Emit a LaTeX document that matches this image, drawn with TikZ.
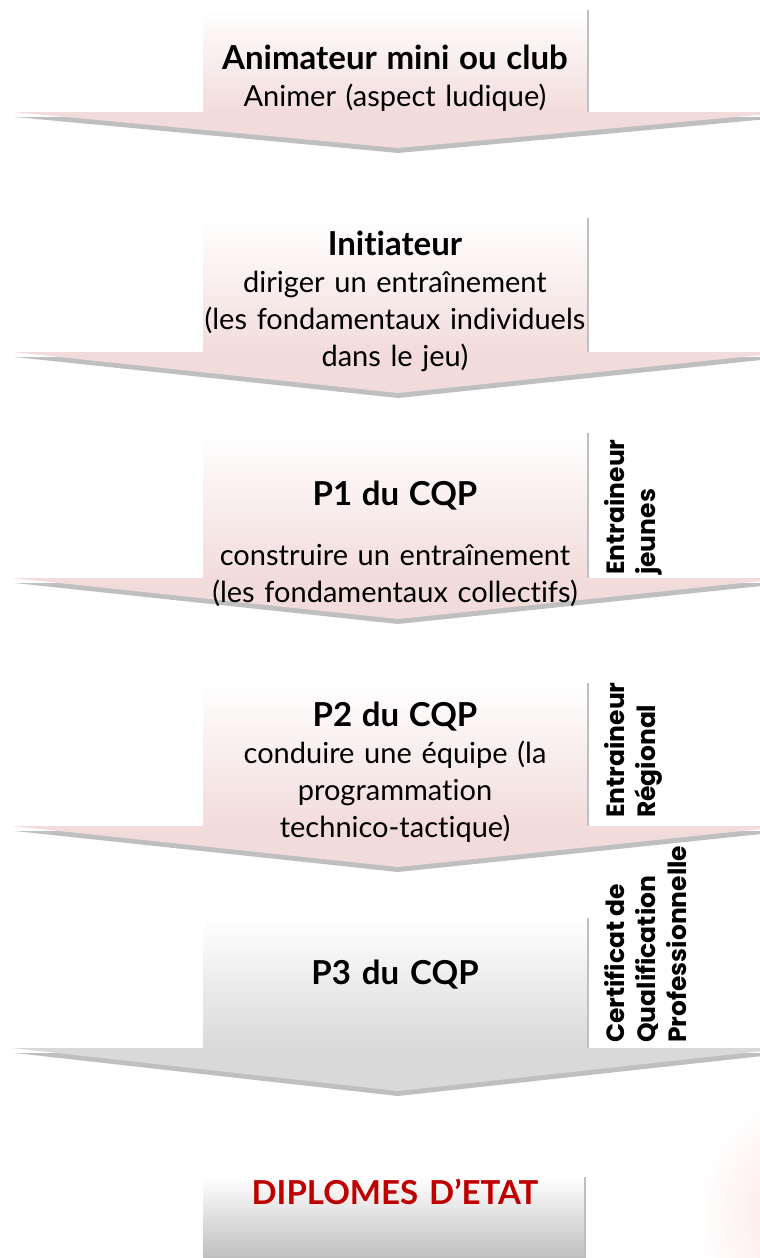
\documentclass[tikz,border=0pt]{standalone}
\usepackage{fontspec}
\setmainfont{Lato}[Ligatures={NoCommon,TeX}]
\newfontfamily\sidefont{Poppins}
\usetikzlibrary{positioning}
\definecolor{rosefill}{HTML}{F2DCDB}
\definecolor{shadowgray}{HTML}{BFBFBF}
\definecolor{palegray}{HTML}{D9D9D9}
\definecolor{diplomered}{HTML}{C00000}

\begin{document}
\begin{tikzpicture}[x=1pt,y=-1pt,
    stagetext/.style={align=center, text width=440pt, inner sep=0pt, font=\fontsize{29}{37}\selectfont},
    headtext/.style={font=\fontsize{33}{37}\selectfont\bfseries},
    sidetext/.style={rotate=90, anchor=north west, align=left, inner sep=0pt, font=\sidefont\bfseries\fontsize{25}{31}\selectfont}]
            \clip (0,0) rectangle (760,1258);
            \fill[white] (0,0) rectangle (760,1258);
            \shade[inner color=red!13, outer color=white] (820,1215) circle (125);

            % Animateur
            \shade[top color=white, bottom color=rosefill] (203,10) rectangle (588,112);
            \draw[shadowgray, line width=2pt] (588,10) -- (588,112);
            \fill[shadowgray] (15,117) -- (790,117) -- (398,153) -- cycle;
            \fill[rosefill] (12,112) -- (790,112) -- (398,148) -- cycle;
            \node[stagetext] (anim) at (395,78) {{\fontsize{33}{37}\selectfont\bfseries Animateur mini ou club}\\Animer (aspect ludique)};

            % Initiateur
            \shade[top color=white, bottom color=rosefill] (203,218) rectangle (588,352);
            \draw[shadowgray, line width=2pt] (588,218) -- (588,352);
            \fill[shadowgray] (15,357) -- (790,357) -- (398,398) -- cycle;
            \fill[rosefill] (12,352) -- (790,352) -- (398,393) -- cycle;
            \node[stagetext] (initi) at (395,301) {{\fontsize{33}{37}\selectfont\bfseries Initiateur}\\diriger un entraînement\\(les fondamentaux individuels\\dans le jeu)};

            % P1
            \shade[top color=white, bottom color=rosefill] (203,433) rectangle (588,578);
            \draw[shadowgray, line width=2pt] (588,433) -- (588,578);
            \fill[shadowgray] (15,583) -- (790,583) -- (398,624) -- cycle;
            \fill[rosefill] (12,578) -- (790,578) -- (398,619) -- cycle;
            \node[stagetext] (pone) at (395,544) {{\fontsize{33}{37}\selectfont\bfseries P1 du CQP}\\[23pt]construire un entraînement\\(les fondamentaux collectifs)};
            \node[sidetext] (sidejeunes) at (604,575) {Entraineur\\jeunes};

            % P2
            \shade[top color=white, bottom color=rosefill] (203,683) rectangle (588,826);
            \draw[shadowgray, line width=2pt] (588,683) -- (588,826);
            \fill[shadowgray] (15,831) -- (790,831) -- (398,872) -- cycle;
            \fill[rosefill] (12,826) -- (790,826) -- (398,867) -- cycle;
            \node[stagetext] (ptwo) at (395,772) {{\fontsize{33}{37}\selectfont\bfseries P2 du CQP}\\conduire une équipe (la\\programmation\\technico-tactique)};
            \node[sidetext] (sideregional) at (604,818) {Entraineur\\Régional};

            % P3
            \shade[top color=white, bottom color=palegray] (203,918) rectangle (588,1048);
            \draw[shadowgray, line width=2pt] (588,918) -- (588,1048);
            \fill[shadowgray] (15,1053) -- (790,1053) -- (398,1096) -- cycle;
            \fill[palegray] (12,1048) -- (790,1048) -- (398,1091) -- cycle;
            \node[stagetext, headtext] (pthree) at (395,975) {P3 du CQP};
            \node[sidetext] (sidecqp) at (604,1043) {Certificat de\\Qualification\\Professionnelle};

            % Diplomes
            \shade[top color=white, bottom color=shadowgray] (203,1177) rectangle (585,1258);
            \draw[shadowgray, line width=2pt] (585,1177) -- (585,1258);
            \node[stagetext, headtext, text=diplomered] (diplome) at (395,1192) {DIPLOMES D’ETAT};
        \end{tikzpicture}
\end{document}
